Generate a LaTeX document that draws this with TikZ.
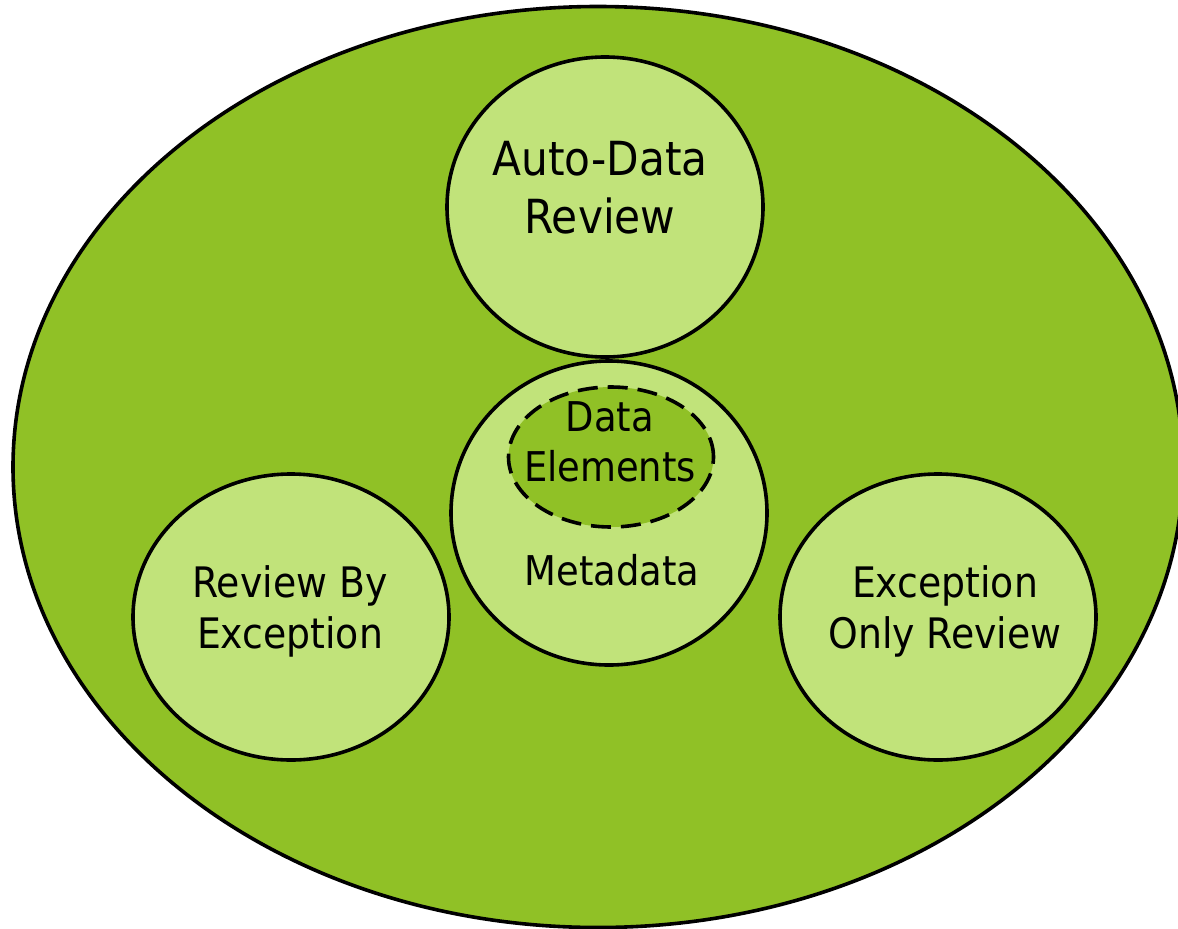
\documentclass[tikz,border=0pt]{standalone}
\usepackage{fontspec}
\setmainfont{DejaVu Sans Condensed}
\usepackage{tikz}
\usetikzlibrary{positioning,shapes.geometric}

\definecolor{leafgreen}{RGB}{144,193,38}
\definecolor{palegreen}{RGB}{193,227,122}

\begin{document}
\begin{tikzpicture}[
    x=1pt, y=-1pt,
    reviewblob/.style={
        ellipse,
        draw,
        line width=3.6pt,
        fill=palegreen,
        inner sep=0pt,
        minimum width=316pt
    },
    coreblob/.style={
        ellipse,
        draw,
        dash pattern=on 20pt off 10pt,
        line width=3.6pt,
        fill=leafgreen,
        inner sep=0pt,
        minimum width=205pt,
        minimum height=140pt
    },
    blobtext/.style={
        align=center,
        inner sep=0pt,
        font=\fontsize{42}{51}\selectfont
    },
    smallblobtext/.style={
        align=center,
        inner sep=0pt,
        font=\fontsize{41}{50}\selectfont
    }
]

\useasboundingbox (0,0) rectangle (1178,929);

% ------------------------------------------------------------
% Outer region
% ------------------------------------------------------------

\node[ellipse, draw, line width=3.6pt, fill=leafgreen, inner sep=0pt,
      minimum width=1170pt, minimum height=921pt] (outer) at (598,467) {};

% ------------------------------------------------------------
% Centre: metadata with data elements inside
% ------------------------------------------------------------

\node[reviewblob, minimum height=304pt] (meta) at (609,513) {};

\node[coreblob] (elements) at (611,457) {};

\node[smallblobtext] (elementstext) at (610,442) {Data\\Elements};

\node[smallblobtext] (metatext) at (612,570) {Metadata};

% ------------------------------------------------------------
% Review types around the centre
% ------------------------------------------------------------

\node[reviewblob, minimum height=300pt] (auto) at (605,207) {};
\node[blobtext, font=\fontsize{47}{58}\selectfont] (autotext) at (600,188)
    {Auto-Data\\Review};

\node[reviewblob, minimum height=286pt] (byexc) at (291,617) {};
\node[blobtext] (byexctext) at (290,611) {Review By\\Exception};

\node[reviewblob, minimum height=286pt] (onlyexc) at (938,617) {};
\node[blobtext] (onlyexctext) at (945,611) {Exception\\Only Review};

\end{tikzpicture}
\end{document}
